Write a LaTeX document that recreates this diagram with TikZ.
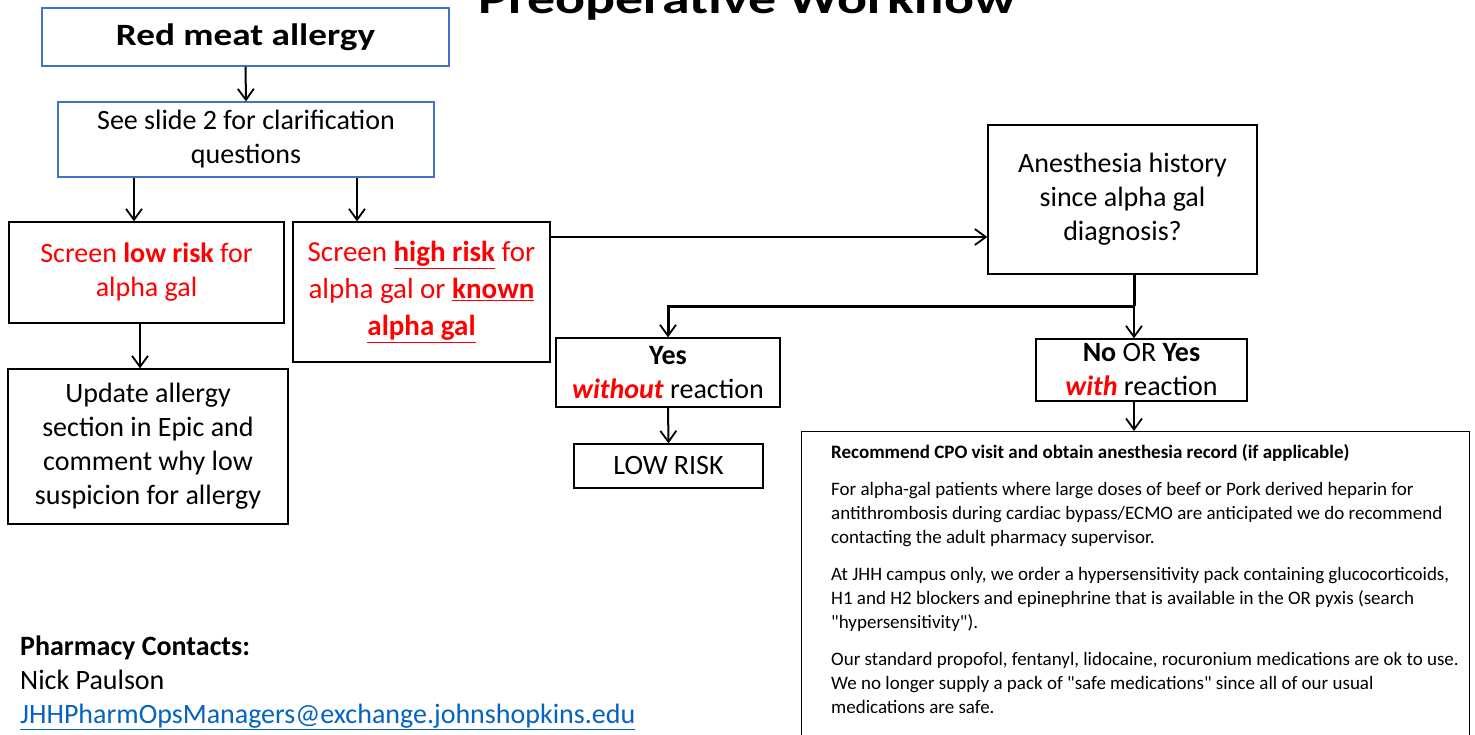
\documentclass[tikz,border=0pt]{standalone}
\usepackage{fontspec}
\setmainfont{Carlito}
\newfontfamily\widebold[FakeStretch=1.2]{Carlito Bold}
\newfontfamily\titlebold[FakeStretch=1.3]{Carlito Bold}
\usetikzlibrary{arrows.meta}
\definecolor{boxblue}{HTML}{4472C4}
\definecolor{linkblue}{HTML}{0563C1}
\definecolor{alertred}{HTML}{FF0000}

\begin{document}
\begin{tikzpicture}[x=1pt,y=-1pt,
  box/.style={draw=black, line width=1.3pt, align=center, inner sep=0pt,
    font=\fontsize{28}{34}\selectfont},
  bluebox/.style={box, draw=boxblue, line width=1.2pt},
  arr/.style={line width=2pt, -{Straight Barb[length=11pt,width=16pt,line width=1.8pt]}},
  plain/.style={inner sep=0pt, anchor=base west, font=\fontsize{28}{34}\selectfont},
]
\useasboundingbox (0,0) rectangle (1475,734);
\clip (0,0) rectangle (1475,734);
\fill[white] (0,0) rectangle (1475,734);

% title, partly above the top edge
\node[inner sep=0pt, anchor=base, font=\fontsize{43}{48}\titlebold]
  (title) at (747.5,13) {Preoperative Workflow};

% flow boxes
\node[bluebox, minimum width=407, minimum height=58, font=\fontsize{31}{36}\widebold]
  (red) at (245.5,37) {Red meat allergy};
\node[bluebox, minimum width=376, minimum height=75]
  (see) at (246,139.5) {See slide 2 for clarification\\questions};
\node[box, minimum width=275, minimum height=101, text=alertred]
  (low) at (146.5,272.5) {Screen \textbf{low risk} for\\alpha gal};
\node[box, minimum width=257, minimum height=140, text=alertred,
  font=\fontsize{29}{37}\selectfont]
  (high) at (421.5,292) {Screen \underline{\textbf{high risk}} for\\alpha gal or \underline{\textbf{known}}\\\underline{\textbf{alpha gal}}};
\node[box, minimum width=280, minimum height=155]
  (update) at (148,446.5) {Update allergy\\section in Epic and\\comment why low\\suspicion for allergy};
\node[box, minimum width=269, minimum height=149]
  (anes) at (1122.5,199.5) {Anesthesia history\\since alpha gal\\diagnosis?};
\node[box, minimum width=224, minimum height=69]
  (yes) at (668,372.5) {\textbf{Yes}\\\textcolor{alertred}{\textbf{\textit{without}}} reaction};
\node[box, minimum width=189, minimum height=44]
  (lowrisk) at (668.5,466) {LOW RISK};
\node[box, minimum width=211, minimum height=62]
  (no) at (1141.5,370) {\textbf{No} OR \textbf{Yes}\\\textcolor{alertred}{\textbf{\textit{with}}} reaction};

% recommendation panel, running past the bottom edge
\node[draw=black, line width=1.3pt, inner sep=0pt, anchor=north west,
  minimum width=668, minimum height=340] (rec) at (801,431) {};
\node[inner sep=0pt, anchor=north west, align=left,
  font=\fontsize{19}{24}\selectfont] (rectext) at (831,444)
{\textbf{Recommend CPO visit and obtain anesthesia record (if applicable)}\\[13pt]
For alpha-gal patients where large doses of beef or Pork derived heparin for\\
antithrombosis during cardiac bypass/ECMO are anticipated we do recommend\\
contacting the adult pharmacy supervisor.\\[13pt]
At JHH campus only, we order a hypersensitivity pack containing glucocorticoids,\\
H1 and H2 blockers and epinephrine that is available in the OR pyxis (search\\
\textquotedbl hypersensitivity\textquotedbl).\\[13pt]
Our standard propofol, fentanyl, lidocaine, rocuronium medications are ok to use.\\
We no longer supply a pack of \textquotedbl safe medications\textquotedbl{} since all of our usual\\
medications are safe.};

% contacts
\node[plain] (pc1) at (20,655) {\textbf{Pharmacy Contacts:}};
\node[plain] (pc2) at (20,689) {Nick Paulson};
\node[plain, text=linkblue] (pc3) at (20,723) {\underline{JHHPharmOpsManagers@exchange.johnshopkins.edu}};

% connector positions
\coordinate (xa) at (134,0);
\coordinate (xb) at (357,0);
\coordinate (xc) at (140,0);
\coordinate (xd) at (1134,0);
\coordinate (yh) at (0,237);
\coordinate (split) at (1134,306);

% connectors
\draw[arr] (red.south) -- (see.north);
\draw[arr] (see.south -| xa) -- (low.north -| xa);
\draw[arr] (see.south -| xb) -- (high.north -| xb);
\draw[arr] (low.south -| xc) -- (update.north -| xc);
\draw[arr] (high.east |- yh) -- (anes.west |- yh);
\draw[line width=3pt] (anes.south -| xd) -- (split);
\draw[arr, line width=3pt] (split) -| (yes.north);
\draw[arr] (split) -- (no.north -| split);
\draw[arr] (yes.south) -- (lowrisk.north);
\draw[arr] (no.south -| xd) -- (rec.north -| xd);
\end{tikzpicture}
\end{document}
